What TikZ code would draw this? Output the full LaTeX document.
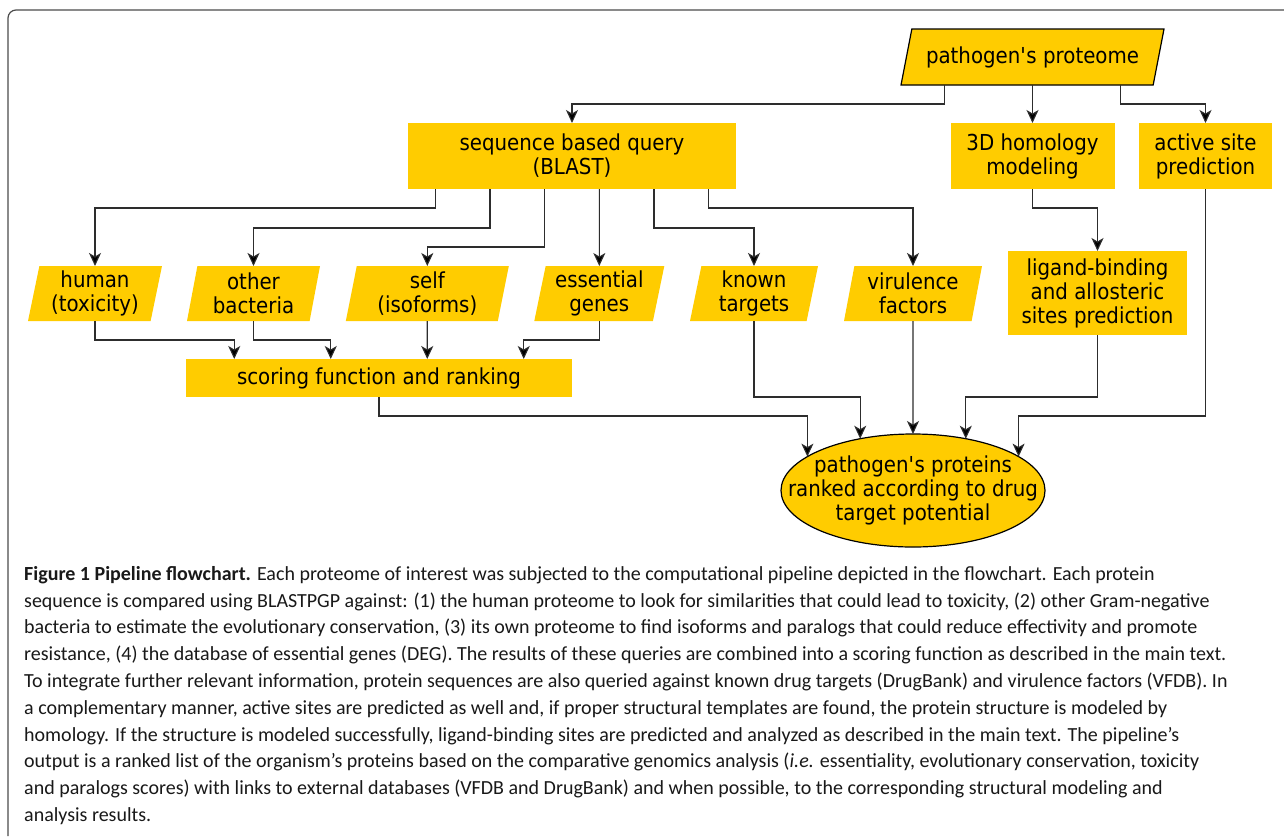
\documentclass[tikz,border=0pt]{standalone}
\usepackage{fontspec}
\setmainfont{Carlito}
\newfontfamily\boxfont[FakeStretch=0.9]{DejaVu Sans}
\usetikzlibrary{shapes.geometric, arrows.meta, calc}

\definecolor{boxyellow}{RGB}{255,204,0}
\definecolor{linegray}{RGB}{45,45,45}

\tikzset{
  block/.style={rectangle, fill=boxyellow, align=center, inner sep=2pt, outer sep=0pt,
    font=\boxfont\fontsize{22}{24}\selectfont},
  data/.style={trapezium, trapezium left angle=77, trapezium right angle=103,
    trapezium stretches body=true, fill=boxyellow, align=center, inner sep=2pt, outer sep=0pt,
    minimum height=55pt, font=\boxfont\fontsize{22}{24}\selectfont},
  arr/.style={-{Stealth[length=13pt, width=12pt, inset=3.5pt, fill=black]}, draw=linegray, line width=1.1pt},
}

\begin{document}
\begin{tikzpicture}[x=1pt, y=-1pt]
        \useasboundingbox (0,0) rectangle (1284,836);
        \fill[white] (0,0) rectangle (1284,836);
        \draw[black!70, line width=1.2pt, rounded corners=8pt] (8,836) |- (1284,10);

        % input and first level
        \node[data, draw=black, line width=1.2pt, trapezium left angle=66.8, trapezium right angle=113.2,
            minimum width=263pt, minimum height=56pt] (prot) at (1032.5,57) {pathogen\textquotesingle s proteome};
        \node[block, minimum width=328pt, minimum height=66pt] (blast) at (572,156) {sequence based query\\(BLAST)};
        \node[block, minimum width=164pt, minimum height=66pt] (homol) at (1032.5,156) {3D homology\\modeling};
        \node[block, minimum width=133pt, minimum height=66pt] (active) at (1205.5,156) {active site\\prediction};

        % query databases
        \node[data, minimum width=134pt] (human) at (95,293.5) {human\\(toxicity)};
        \node[data, minimum width=133pt] (other) at (253.5,293.5) {other\\bacteria};
        \node[data, minimum width=163pt] (self) at (427.3,293.5) {self\\(isoforms)};
        \node[data, minimum width=130pt] (essen) at (599.3,293.5) {essential\\genes};
        \node[data, minimum width=128pt] (known) at (754,293.5) {known\\targets};
        \node[data, minimum width=138pt] (viru) at (913,293.5) {virulence\\factors};
        \node[block, minimum width=179pt, minimum height=84pt] (ligand) at (1097.5,293) {ligand-binding\\and allosteric\\sites prediction};

        \node[block, minimum width=386pt, minimum height=38pt] (score) at (379,378) {scoring function and ranking};
        \node[ellipse, draw=black, line width=1.2pt, fill=boxyellow, minimum width=264pt, minimum height=113pt,
            inner xsep=-40pt, inner ysep=0pt, outer sep=0pt, align=center,
            font=\boxfont\fontsize{22}{24}\selectfont] (final) at (913,490.5)
            {pathogen\textquotesingle s proteins\\ranked according to drug\\target potential};

        % arrow ends on scoring box and on the ellipse
        \foreach \i/\f in {1/0.125, 2/0.375, 3/0.625, 4/0.875} {
                \coordinate (s\i) at ($(score.north west)!\f!(score.north east)$);
            }
        \foreach \i/\c in {1/-0.8, 2/-0.4, 3/0, 4/0.4, 5/0.8} {
                \pgfmathsetmacro{\s}{sqrt(1-(\c)^2)}
                \coordinate (e\i) at ($(final.center)!\c!(final.east) + \s*(final.north) - \s*(final.center)$);
            }

        \draw[arr] ($(prot.south)+(-88,0)$) -- ++(0,19) -| (blast);
        \draw[arr] (prot) -- (homol);
        \draw[arr] ($(prot.south)+(88,0)$) -- ++(0,19) -| (active);

        \draw[arr] ($(blast.south west)!1/12!(blast.south east)$) -- ++(0,19) -| (human);
        \draw[arr] ($(blast.south west)!3/12!(blast.south east)$) -- ++(0,39) -| (other);
        \draw[arr] ($(blast.south west)!5/12!(blast.south east)$) -- ++(0,58) -| (self);
        \draw[arr] ($(blast.south west)!7/12!(blast.south east)$) -- (essen);
        \draw[arr] ($(blast.south west)!9/12!(blast.south east)$) -- ++(0,39) -| (known);
        \draw[arr] ($(blast.south west)!11/12!(blast.south east)$) -- ++(0,19) -| (viru);
        \draw[arr] (homol.south) -- ++(0,19) -| (ligand);

        \draw[arr] (human.south) -- ++(0,19) -| (s1);
        \draw[arr] (other.south) -- ++(0,19) -| (s2);
        \draw[arr] (self) -- (s3);
        \draw[arr] (essen.south) -- ++(0,19) -| (s4);

        \draw[arr] (score.south) -- ++(0,19) -| (e1);
        \draw[arr] (known.south) -- ++(0,76) -| (e2);
        \draw[arr] (viru) -- (e3);
        \draw[arr] (ligand.south) -- ++(0,62) -| (e4);
        \draw[arr] (active.south) -- ++(0,227) -| (e5);

        % caption
        \node[anchor=north west, inner sep=0pt, align=left, text=black!90,
            font=\fontsize{20}{26.8}\selectfont] (caption) at (24,566)
            {\textbf{Figure 1 Pipeline flowchart.} Each proteome of interest was subjected to the computational pipeline depicted in the flowchart. Each protein\\
            sequence is compared using BLASTPGP against: (1) the human proteome to look for similarities that could lead to toxicity, (2) other Gram-negative\\
            bacteria to estimate the evolutionary conservation, (3) its own proteome to find isoforms and paralogs that could reduce effectivity and promote\\
            resistance, (4) the database of essential genes (DEG). The results of these queries are combined into a scoring function as described in the main text.\\
            To integrate further relevant information, protein sequences are also queried against known drug targets (DrugBank) and virulence factors (VFDB). In\\
            a complementary manner, active sites are predicted as well and, if proper structural templates are found, the protein structure is modeled by\\
            homology. If the structure is modeled successfully, ligand-binding sites are predicted and analyzed as described in the main text. The pipeline’s\\
            output is a ranked list of the organism’s proteins based on the comparative genomics analysis (\textit{i.e.} essentiality, evolutionary conservation, toxicity\\
            and paralogs scores) with links to external databases (VFDB and DrugBank) and when possible, to the corresponding structural modeling and\\
            analysis results.};
    \end{tikzpicture}
\end{document}
